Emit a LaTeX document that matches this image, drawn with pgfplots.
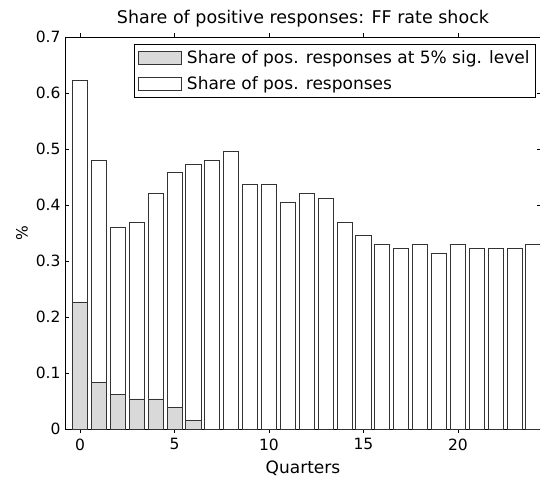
\documentclass[border=0pt]{standalone}
\usepackage{fontspec}
\setmainfont{DejaVu Sans}
\usepackage{pgfplots}
\pgfplotsset{compat=1.18}
\newcommand\ff{\fontsize{15.5}{18}\selectfont}
\newcommand\tf{\fontsize{17.5}{20}\selectfont}
\newcommand\lf{\fontsize{17}{20}\selectfont}
\definecolor{sig}{gray}{0.85}
\begin{document}
\begin{tikzpicture}[x=1pt,y=1pt]
\path[use as bounding box] (-65,-51) rectangle (475,429);
\begin{axis}[
  at={(0,0)}, anchor=south west,
  scale only axis, width=476pt, height=392pt,
  xmin=-0.8, xmax=24.4, ymin=0, ymax=0.7,
  xtick={0,5,10,15,20},
  ytick={0,0.1,0.2,0.3,0.4,0.5,0.6,0.7},
  yticklabels={0,0.1,0.2,0.3,0.4,0.5,0.6,0.7},
  xticklabels={0,5,10,15,20},
  tick align=inside, major tick length=4pt,
  xtick pos=both, ytick pos=both,
  tick style={black, line width=0.6pt},
  axis line style={line width=0.8pt},
  ticklabel style={font=\ff},
  xticklabel style={yshift=-2pt},
  yticklabel style={xshift=-1pt},
  title={Share of positive responses: FF rate shock},
  title style={font=\tf, anchor=center, at={(rel axis cs:0.5,1)}, yshift=12pt},
  xlabel={Quarters},
  xlabel style={font=\lf, anchor=center, at={(rel axis cs:0.5,0)}, yshift=-39pt},
  ylabel={\%},
  ylabel style={font=\ff, anchor=center, at={(rel axis cs:0,0.5)}, yshift=43pt},
  ybar, bar width=0.8, bar shift=0pt,
  legend style={at={(rel axis cs:0.9895,0.9817)}, anchor=north east, draw=black,
    line width=0.8pt, font=\lf, inner xsep=4pt, inner ysep=4pt,
    row sep=8pt, /tikz/every odd column/.append style={column sep=3pt}},
  legend cell align=left,
  legend image code/.code={\draw[#1, line width=0.8pt] (0pt,-6.5pt) rectangle (43pt,6.5pt);},
]
\addplot[fill=white, draw=black!80, line width=0.9pt, forget plot] coordinates {
(0,0.623) (1,0.480) (2,0.360) (3,0.368) (4,0.420) (5,0.458) (6,0.473)
(7,0.480) (8,0.495) (9,0.436) (10,0.436) (11,0.405) (12,0.420) (13,0.4125)
(14,0.368) (15,0.345) (16,0.330) (17,0.322) (18,0.330) (19,0.314) (20,0.330)
(21,0.322) (22,0.322) (23,0.322) (24,0.330)
};
\addplot[fill=sig, draw=black!80, line width=0.9pt] coordinates {
(0,0.2256) (1,0.0833) (2,0.0613) (3,0.0536) (4,0.0536) (5,0.038) (6,0.0155)
};
\addlegendentry{Share of pos. responses at 5\% sig. level}
\addlegendimage{fill=white, draw=black!80}
\addlegendentry{Share of pos. responses}
\end{axis}
\end{tikzpicture}
\end{document}
